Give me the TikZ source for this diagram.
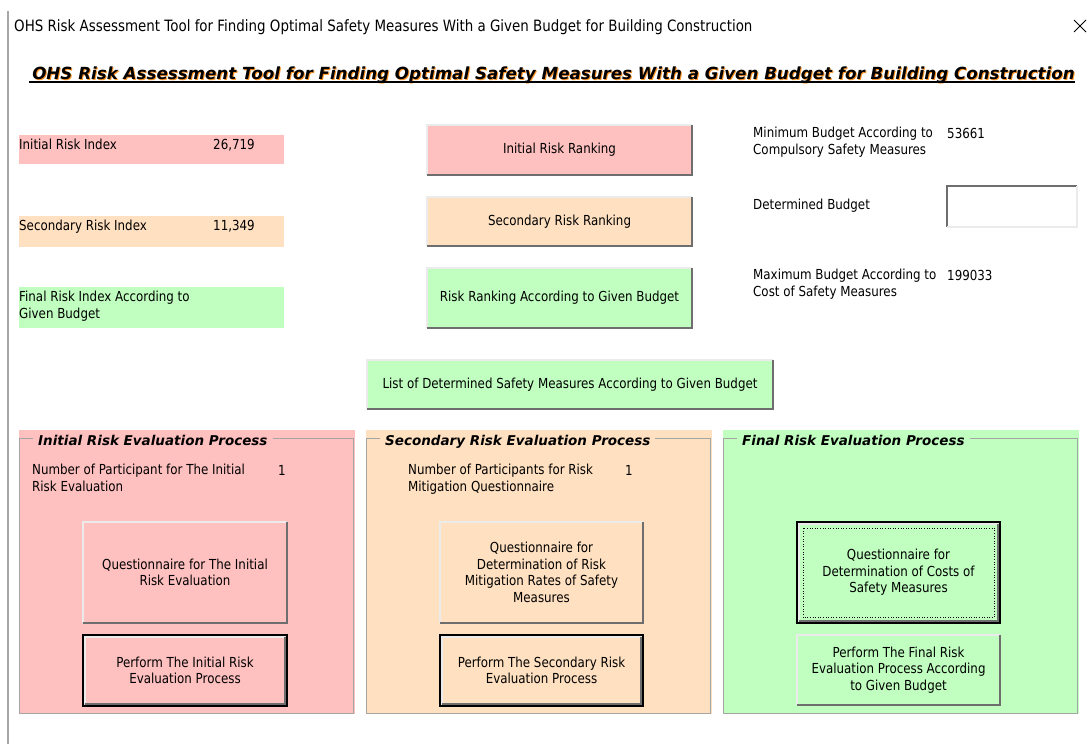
\documentclass[tikz,border=0pt]{standalone}
\usepackage{fontspec}
\setmainfont{DejaVu Sans}[FakeStretch=0.86]
\newfontfamily\headface{DejaVu Sans}
\usepackage{xcolor}
\usetikzlibrary{positioning}

\definecolor{riskpink}{RGB}{255,192,192}
\definecolor{riskpeach}{RGB}{255,224,192}
\definecolor{riskgreen}{RGB}{192,255,192}
\definecolor{bevelhi}{RGB}{235,235,235}
\definecolor{bevello}{RGB}{110,110,110}
\definecolor{framegray}{RGB}{165,165,165}
\definecolor{headshade}{RGB}{255,150,40}

\newcommand{\uisize}{\fontsize{13.8}{16.5}\selectfont}
\newcommand{\barsize}{\fontsize{15.6}{19}\selectfont}
\newcommand{\headsize}{\headface\bfseries\itshape\fontsize{16.7}{21}\selectfont}
\newcommand{\titlesize}{\headface\bfseries\itshape\fontsize{13.5}{16}\selectfont}

\begin{document}
\begin{tikzpicture}[x=1pt, y=-1pt,
    ui/.style={font=\uisize, inner sep=0pt, align=left, anchor=base west},
    btn/.style={font=\uisize, inner sep=0pt, align=center, fill=#1},
    bar/.style={fill=#1, inner sep=0pt},
    panel/.style={fill=#1, inner sep=0pt},
    paneltitle/.style={font=\titlesize, fill=#1, inner xsep=5pt, inner ysep=0pt, anchor=base west},
    hi/.style={draw=bevelhi, line width=1.5pt},
    lo/.style={draw=bevello, line width=1.5pt}]
    \fill[white] (0,0) rectangle (1087,744);
    \useasboundingbox (0,0) rectangle (1087,744);

    % window frame
    \draw[gray!70, line width=1.2pt] (8,11) -- (8,744);
    \node[anchor=base west, font=\barsize, inner sep=0pt] (wintitle) at (14,31)
        {OHS Risk Assessment Tool for Finding Optimal Safety Measures With a Given Budget for Building Construction};
    \draw[line width=0.8pt] (1074,20) -- (1086,32);
    \draw[line width=0.8pt] (1074,32) -- (1086,20);

    % heading
    \node[anchor=base, font=\headsize, text=headshade, inner sep=0pt] (headshadow) at (554.5,80)
        {OHS Risk Assessment Tool for Finding Optimal Safety Measures With a Given Budget for Building Construction};
    \node[anchor=base, font=\headsize, inner sep=0pt] (head) at (553.5,79)
        {OHS Risk Assessment Tool for Finding Optimal Safety Measures With a Given Budget for Building Construction};
    \draw[line width=1.6pt] ([shift={(-3,3)}]head.base west) -- ([shift={(0,3)}]head.base east);

    % risk indices
    \node[bar=riskpink, minimum width=265pt, minimum height=29pt] (barInit) at (151.5,149.5) {};
    \node[bar=riskpeach, minimum width=265pt, minimum height=31pt] (barSec) at (151.5,231.5) {};
    \node[bar=riskgreen, minimum width=265pt, minimum height=41pt] (barFinal) at (151.5,307.5) {};
    \node[ui] (idxInit) at (19,149) {Initial Risk Index};
    \node[ui] (idxInitVal) at (213,149) {26,719};
    \node[ui] (idxSec) at (19,230) {Secondary Risk Index};
    \node[ui] (idxSecVal) at (213,230) {11,349};
    \node[ui] (idxFinal) at (19,318) {Final Risk Index According to\\Given Budget};

    % ranking buttons
    \node[btn=riskpink, minimum width=265pt, minimum height=50pt] (rankInit) at (559.5,150) {Initial Risk Ranking};
    \node[btn=riskpeach, minimum width=265pt, minimum height=49pt] (rankSec) at (559.5,221.5) {Secondary Risk Ranking};
    \node[btn=riskgreen, minimum width=265pt, minimum height=60pt] (rankBudget) at (559.5,298) {Risk Ranking According to Given Budget};
    \node[btn=riskgreen, minimum width=406pt, minimum height=49pt] (listMeasures) at (570,384.5)
        {List of Determined Safety Measures According to Given Budget};

    % budget
    \node[ui] (minBudget) at (753,154) {Minimum Budget According to\\Compulsory Safety Measures};
    \node[ui] (minBudgetVal) at (947,138) {53661};
    \node[ui] (detBudget) at (753,209) {Determined Budget};
    \node[fill=white, minimum width=130pt, minimum height=41pt, inner sep=0pt] (detBox) at (1012,206.5) {};
    \draw[lo] (detBox.south west) -- (detBox.north west) -- (detBox.north east);
    \draw[hi] (detBox.south west) -- (detBox.south east) -- (detBox.north east);
    \node[ui] (maxBudget) at (753,296) {Maximum Budget According to\\Cost of Safety Measures};
    \node[ui] (maxBudgetVal) at (947,280) {199033};

    % evaluation panels
    \node[panel=riskpink, minimum width=336pt, minimum height=284pt] (pnlInit) at (187,572) {};
    \node[panel=riskpeach, minimum width=346pt, minimum height=284pt] (pnlSec) at (539,572) {};
    \node[panel=riskgreen, minimum width=356pt, minimum height=284pt] (pnlFinal) at (901,572) {};
    \foreach \p in {pnlInit,pnlSec,pnlFinal}
        \draw[framegray, line width=1.2pt] ([shift={(1,9)}]\p.north west) rectangle ([shift={(-2,-1)}]\p.south east);
    \node[paneltitle=riskpink] (ttlInit) at (33,445) {Initial Risk Evaluation Process};
    \node[paneltitle=riskpeach] (ttlSec) at (380,445) {Secondary Risk Evaluation Process};
    \node[paneltitle=riskgreen] (ttlFinal) at (737,445) {Final Risk Evaluation Process};

    \node[ui] (numInit) at (32,491) {Number of Participant for The Initial\\Risk Evaluation};
    \node[ui] (numInitVal) at (278,475) {1};
    \node[ui] (numSec) at (408,491) {Number of Participants for Risk\\Mitigation Questionnaire};
    \node[ui] (numSecVal) at (625,475) {1};

    \node[btn=riskpink, minimum width=204pt, minimum height=101pt] (qInit) at (185,572.5)
        {Questionnaire for The Initial\\Risk Evaluation};
    \node[btn=riskpink, minimum width=204pt, minimum height=71pt] (runInit) at (185,670.5)
        {Perform The Initial Risk\\Evaluation Process};
    \node[btn=riskpeach, minimum width=203pt, minimum height=101pt] (qSec) at (541.5,572.5)
        {Questionnaire for\\Determination of Risk\\Mitigation Rates of Safety\\Measures};
    \node[btn=riskpeach, minimum width=203pt, minimum height=71pt] (runSec) at (541.5,670.5)
        {Perform The Secondary Risk\\Evaluation Process};
    \node[btn=riskgreen, minimum width=203pt, minimum height=101pt] (qFinal) at (898.5,572.5)
        {Questionnaire for\\Determination of Costs of\\Safety Measures};
    \node[btn=riskgreen, minimum width=203pt, minimum height=70pt] (runFinal) at (898.5,670)
        {Perform The Final Risk\\Evaluation Process According\\to Given Budget};

    % raised buttons
    \foreach \b in {rankInit,rankSec,rankBudget,listMeasures,qInit,qSec,runFinal} {
        \draw[hi] (\b.south west) -- (\b.north west) -- (\b.north east);
        \draw[lo] (\b.south west) -- (\b.south east) -- (\b.north east);
    }
    % default buttons
    \foreach \b in {runInit,runSec,qFinal} {
        \draw[black, line width=1.5pt] (\b.south west) rectangle (\b.north east);
        \draw[hi] ([shift={(2,-2)}]\b.south west) -- ([shift={(2,2)}]\b.north west) -- ([shift={(-2,2)}]\b.north east);
        \draw[lo] ([shift={(2,-2)}]\b.south west) -- ([shift={(-2,-2)}]\b.south east) -- ([shift={(-2,2)}]\b.north east);
    }
    \draw[dotted, line width=0.6pt] ([shift={(6,-6)}]qFinal.south west) rectangle ([shift={(-6,6)}]qFinal.north east);
\end{tikzpicture}
\end{document}
